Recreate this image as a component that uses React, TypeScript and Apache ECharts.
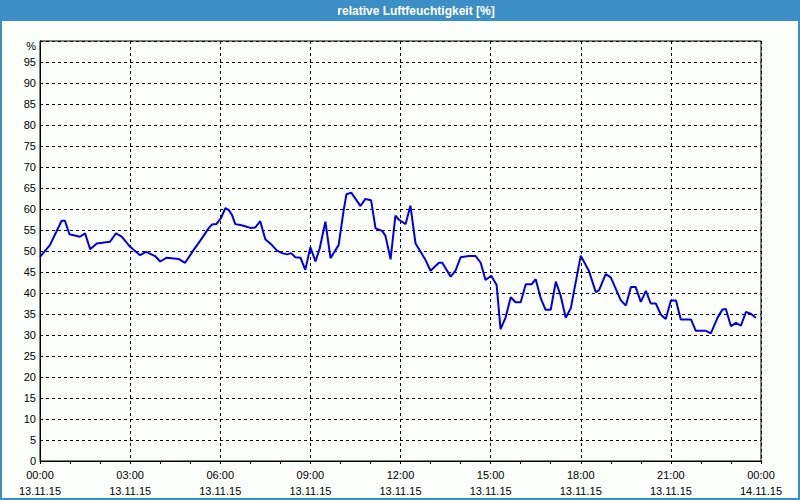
import React, { useEffect, useRef } from "react";
import * as echarts from "echarts";

const titleText = "relative Luftfeuchtigkeit [%]";
const unitLabel = "%";

// time in hours since 13.11.15 00:00
const hours = [
  0.0, 0.33, 0.72, 0.83, 0.98, 1.33, 1.5, 1.67, 1.89, 2.33, 2.53, 2.72, 3.0, 3.33, 3.53, 3.83,
  4.0, 4.22, 4.61, 4.83, 5.11, 5.33, 5.61, 5.72, 5.87, 6.02, 6.17, 6.28, 6.39, 6.5, 6.67, 6.83,
  7.0, 7.17, 7.33, 7.5, 7.72, 7.89, 8.06, 8.22, 8.36, 8.5, 8.67, 8.83, 9.0, 9.17, 9.31, 9.5,
  9.67, 9.94, 10.11, 10.2, 10.36, 10.67, 10.83, 11.02, 11.17, 11.39, 11.5, 11.67, 11.83, 11.94,
  12.17, 12.33, 12.5, 12.67, 12.83, 13.0, 13.28, 13.39, 13.67, 13.83, 14.0, 14.28, 14.5, 14.67,
  14.83, 15.02, 15.2, 15.33, 15.5, 15.67, 15.83, 16.0, 16.17, 16.37, 16.5, 16.67, 16.83, 17.0,
  17.17, 17.33, 17.5, 17.67, 18.0, 18.28, 18.5, 18.61, 18.83, 19.0, 19.33, 19.5, 19.67, 19.83,
  20.0, 20.17, 20.33, 20.5, 20.67, 20.83, 21.0, 21.17, 21.33, 21.67, 21.83, 22.17, 22.33, 22.56,
  22.72, 22.83, 23.0, 23.17, 23.33, 23.5, 23.67, 23.83,
];

const humidity = [
  48.6, 51.4, 57.2, 57.2, 54.0, 53.4, 54.2, 50.4, 51.8, 52.2, 54.2, 53.4, 51.0, 49.0, 49.8, 48.8,
  47.5, 48.4, 48.1, 47.2, 50.2, 52.4, 55.4, 56.3, 56.4, 57.8, 60.2, 59.8, 58.6, 56.4, 56.2, 55.9,
  55.5, 55.6, 57.1, 52.8, 51.4, 50.1, 49.5, 49.2, 49.5, 48.5, 48.4, 45.5, 50.9, 47.5, 50.6, 57.0,
  48.3, 51.4, 59.8, 63.5, 63.9, 60.7, 62.4, 62.1, 55.4, 54.8, 53.6, 48.0, 58.4, 57.5,
  56.4, 60.8, 51.8, 49.8, 47.9, 45.3, 47.2, 47.2, 43.9, 45.3, 48.5, 48.8, 48.8, 47.2,
  43.1, 44.1, 41.9, 31.4, 34.2, 39.0, 37.8, 37.8, 42.1, 42.1, 43.3, 38.7, 36.0, 36.0,
  42.7, 39.4, 34.1, 36.4, 48.9, 45.1, 40.2, 40.7, 44.5, 43.7, 38.3, 37.0, 41.4, 41.4,
  37.9, 40.5, 37.5, 37.5, 34.8, 33.8, 38.2, 38.2, 33.7, 33.7, 31.0, 31.0, 30.4, 34.2,
  36.1, 36.2, 32.1, 32.9, 32.2, 35.5, 35.0, 34.1,
];

const tickHours = [0, 3, 6, 9, 12, 15, 18, 21, 24];
const timeLabels = ["00:00", "03:00", "06:00", "09:00", "12:00", "15:00", "18:00", "21:00", "00:00"];
const dateLabels = ["13.11.15", "13.11.15", "13.11.15", "13.11.15", "13.11.15", "13.11.15", "13.11.15", "13.11.15", "14.11.15"];

const FONT = "'Liberation Sans', Arial, sans-serif";

export default function App() {
  const ref = useRef<HTMLDivElement>(null);
  useEffect(() => {
    if (!ref.current) return;
    const chart = echarts.init(ref.current, undefined, { renderer: "svg" });
    const data = hours.map((h, i) => [h, humidity[i]]);
    chart.setOption({
      animation: false,
      backgroundColor: "#fcfefc",
      textStyle: { fontFamily: FONT },
      grid: {
        left: 40,
        top: 41,
        right: 39,
        bottom: 39,
        show: true,
        borderColor: "#000",
        borderWidth: 1,
        backgroundColor: "transparent",
      },
      graphic: [
        {
          type: "rect",
          shape: { x: 0, y: 0, width: 800, height: 21 },
          style: { fill: "#3c8fc6" },
        },
        {
          type: "rect",
          shape: { x: 1, y: 1, width: 798, height: 498 },
          style: { fill: "none", stroke: "#3c8fc6", lineWidth: 2 },
        },
        {
          type: "text",
          x: 416,
          y: 11,
          style: {
            text: titleText,
            fill: "#fff",
            font: `bold 12px ${FONT}`,
            textAlign: "center",
            textVerticalAlign: "middle",
          },
        },
        {
          type: "text",
          x: 36,
          y: 46,
          style: {
            text: unitLabel,
            fill: "#000",
            font: `11px ${FONT}`,
            textAlign: "right",
            textVerticalAlign: "middle",
          },
        },
      ],
      xAxis: {
        type: "value",
        min: 0,
        max: 24,
        interval: 3,
        axisLine: { show: true, lineStyle: { color: "#000", width: 1 } },
        axisTick: { show: true, length: 3, lineStyle: { color: "#000" } },
        minorTick: { show: true, splitNumber: 3, length: 3, lineStyle: { color: "#000" } },
        splitLine: { show: true, lineStyle: { color: "#000", type: [3, 3], width: 1 } },
        axisLabel: {
          color: "#000",
          fontSize: 11,
          fontFamily: FONT,
          lineHeight: 16,
          margin: 6,
          formatter: (v: number) => {
            const i = tickHours.indexOf(Math.round(v));
            return i >= 0 ? `${timeLabels[i]}\n${dateLabels[i]}` : "";
          },
        },
      },
      yAxis: {
        type: "value",
        min: 0,
        max: 100,
        interval: 5,
        axisLine: { show: true, lineStyle: { color: "#000", width: 1 } },
        axisTick: { show: false },
        splitLine: { show: true, lineStyle: { color: "#000", type: [3, 3], width: 1 } },
        axisLabel: {
          color: "#000",
          fontSize: 11,
          fontFamily: FONT,
          margin: 4,
          formatter: (v: number) => (v === 100 ? "" : String(v)),
        },
      },
      series: [
        {
          type: "line",
          data,
          showSymbol: false,
          symbol: "none",
          lineStyle: { color: "#0000e6", width: 2 },
        },
      ],
    });
    return () => chart.dispose();
  }, []);
  return (
    <div
      ref={ref}
      style={{ position: "fixed", left: 0, top: 0, width: 800, height: 500 }}
    />
  );
}
